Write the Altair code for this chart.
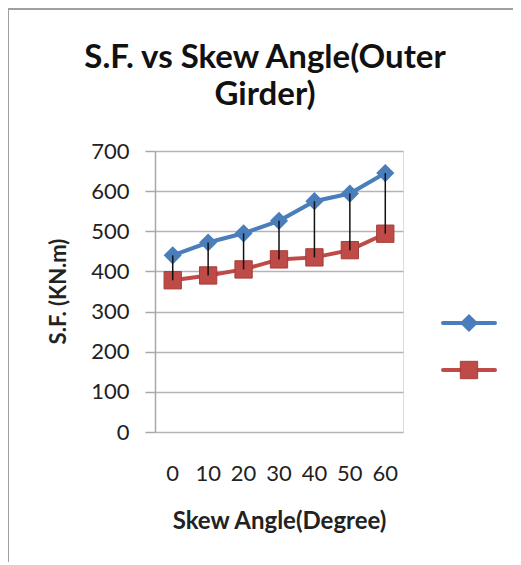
import altair as alt
import pandas as pd

angles = [0, 10, 20, 30, 40, 50, 60]
series1 = [440, 472, 495, 526, 575, 594, 645]
series2 = [378, 390, 405, 430, 435, 453, 494]
y_ticks = [0, 100, 200, 300, 400, 500, 600, 700]
title_lines = ["S.F. vs Skew Angle(Outer", "Girder)"]

BLUE = "#4a7ebb"
RED = "#be4b48"
FONT = "Lato"

wide = pd.DataFrame({"angle": angles, "s1": series1, "s2": series2})
long = pd.concat([
    pd.DataFrame({"angle": angles, "value": series1, "series": "Series1"}),
    pd.DataFrame({"angle": angles, "value": series2, "series": "Series2"}),
])

x_enc = alt.X(
    "angle:O",
    title="Skew Angle(Degree)",
    scale=alt.Scale(paddingInner=0, paddingOuter=0),
    axis=alt.Axis(
        labelAngle=0, domain=False, ticks=False, labelPadding=31,
        labelFontSize=22, labelColor="#222222", labelFont=FONT,
        titleFont=FONT, titleFontSize=24, titleFontWeight="bold",
        titleColor="#222222", titlePadding=25,
    ),
)
y_scale = alt.Scale(domain=[0, 700], nice=False)
y_axis = alt.Axis(
    values=y_ticks, grid=True, gridColor="#b4b4b4", gridWidth=1.5,
    domainColor="#a8a8a8", domainWidth=1.5, tickColor="#a8a8a8", tickWidth=1.5,
    tickSize=10, labelPadding=16, labelFontSize=22, labelColor="#222222",
    labelFont=FONT, title="S.F. (KN.m)", titleFont=FONT, titleFontSize=22,
    titleFontWeight="bold", titleColor="#222222",
    titleX=-97, titleY=140, titleAlign="center", titleBaseline="middle",
)

color_scale = alt.Scale(domain=["Series1", "Series2"], range=[BLUE, RED])

lines = alt.Chart(long).mark_line(strokeWidth=4).encode(
    x=x_enc,
    y=alt.Y("value:Q", scale=y_scale, axis=y_axis),
    color=alt.Color("series:N", scale=color_scale, legend=None),
)
diamonds = alt.Chart(wide).mark_point(
    shape="diamond", filled=True, size=330, color=BLUE, opacity=1
).encode(x=x_enc, y=alt.Y("s1:Q", scale=y_scale))
squares = alt.Chart(wide).mark_point(
    shape="square", filled=True, size=300, color=RED, opacity=1,
    stroke="#a83c3a", strokeWidth=1,
).encode(x=x_enc, y=alt.Y("s2:Q", scale=y_scale))
drops = alt.Chart(wide).mark_rule(color="#111111", strokeWidth=1.5).encode(
    x=x_enc, y=alt.Y("s1:Q", scale=y_scale), y2="s2:Q"
)

# legend (symbols only, as in the reference)
leg = pd.DataFrame({"series": ["Series1", "Series2"]})
one = alt.Chart(leg).transform_filter("datum.series=='Series1'")
leg1_line = one.mark_rule(color=BLUE, strokeWidth=4, strokeCap="round").encode(
    x=alt.value(288), x2=alt.value(340), y=alt.value(172))
leg1_pt = one.mark_point(shape="diamond", filled=True, size=330, color=BLUE, opacity=1).encode(
    x=alt.value(314), y=alt.value(172))
leg2_line = one.mark_rule(color=RED, strokeWidth=4, strokeCap="round").encode(
    x=alt.value(288), x2=alt.value(340), y=alt.value(219))
leg2_pt = one.mark_point(shape="square", filled=True, size=300, color=RED, opacity=1,
                         stroke="#a83c3a", strokeWidth=1).encode(
    x=alt.value(314), y=alt.value(219))

# chart title as two text lines
t1 = one.mark_text(font=FONT, fontSize=33, fontWeight="bold", color="#111111",
                   align="center", baseline="alphabetic").encode(
    x=alt.value(110), y=alt.value(-83), text=alt.value(title_lines[0]))
t2 = one.mark_text(font=FONT, fontSize=33, fontWeight="bold", color="#111111",
                   align="center", baseline="alphabetic").encode(
    x=alt.value(110), y=alt.value(-46), text=alt.value(title_lines[1]))

# outer frame of the chart
frame = one.mark_rect(fill=None, stroke="#a0a0a0", strokeWidth=2).encode(
    x=alt.value(-147), x2=alt.value(420), y=alt.value(-142), y2=alt.value(470))

chart = alt.layer(
    frame, lines, diamonds, squares, drops, leg1_line, leg1_pt, leg2_line, leg2_pt, t1, t2
).properties(
    width=248,
    height=281,
    autosize=alt.AutoSizeParams(type="none"),
    padding={"left": 147, "top": 143, "right": 110, "bottom": 130},
).configure_view(stroke=None).configure(background="white")

chart.save("out.html", embed_options={"renderer": "svg", "actions": False})
